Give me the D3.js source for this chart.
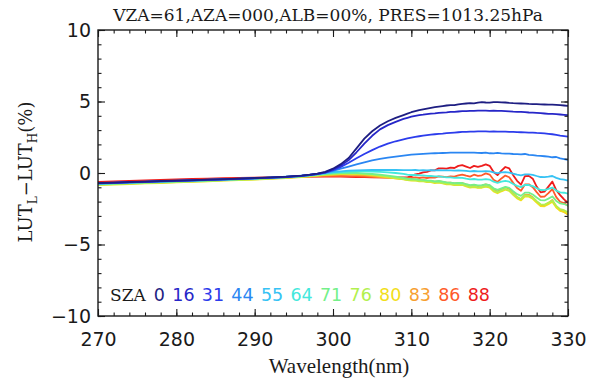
<!DOCTYPE html>
<html>
<head>
<meta charset="utf-8">
<script src="https://cdn.jsdelivr.net/npm/d3@7"></script>
<style>
  body { margin: 0; background: #fff; }
  svg { display: block; }
</style>
</head>
<body>
<svg id="chart" width="590" height="383"></svg>
<script>
// Wavelength grid (nm)
const wavelengths = [270,272,274,276,278,280,282,284,286,288,290,292,294,296,
  297,298,299,300,301,302,303,304,305,306,307,308,309,
  309.5,310,310.5,311,311.5,312,312.5,313,313.5,314,314.5,315,315.5,316,316.5,
  317,317.5,318,318.5,319,319.5,320,320.5,321,321.5,322,322.5,323,323.5,324,
  324.5,325,325.5,326,326.5,327,327.5,328,328.5,329,329.5,330];

// Solar zenith angles and their line colours
const szaLabels = [0, 16, 31, 44, 55, 64, 71, 76, 80, 83, 86, 88];
const szaColors = ["#1e1e82", "#2626c8", "#2c3cec", "#2a86f2", "#36c2f4", "#44e8dc",
                   "#74f08a", "#b2f04e", "#f2de1a", "#f7a030", "#ff5a2a", "#ee1c1c"];

// LUT_L - LUT_H (%) for each SZA
const diffSza00 = [-0.70,-0.67,-0.63,-0.60,-0.56,-0.53,-0.50,-0.46,-0.43,-0.39,-0.35,-0.31,-0.26,-0.18,
  -0.12,-0.04,0.08,0.30,0.62,1.05,1.72,2.40,2.92,3.32,3.62,3.85,4.05,
  4.15,4.25,4.33,4.40,4.45,4.50,4.55,4.60,4.64,4.68,4.72,4.75,4.74,4.80,4.84,4.86,4.88,4.87,4.92,4.95,4.93,
  4.92,4.95,4.96,4.94,4.93,4.90,4.88,4.87,4.86,4.85,4.83,4.82,4.81,4.80,4.79,4.78,4.78,4.76,4.74,4.72,4.70];
const diffSza16 = [-0.71,-0.68,-0.64,-0.61,-0.57,-0.54,-0.51,-0.47,-0.44,-0.40,-0.36,-0.32,-0.27,-0.19,
  -0.13,-0.06,0.05,0.25,0.52,0.90,1.45,2.05,2.60,3.05,3.35,3.58,3.78,
  3.86,3.94,4.00,4.05,4.08,4.12,4.15,4.17,4.20,4.22,4.24,4.27,4.28,4.30,4.32,4.33,4.34,4.35,4.36,4.36,4.36,
  4.35,4.36,4.35,4.34,4.33,4.31,4.29,4.28,4.27,4.25,4.23,4.22,4.20,4.18,4.16,4.14,4.13,4.11,4.09,4.07,4.05];
const diffSza31 = [-0.72,-0.69,-0.65,-0.62,-0.58,-0.55,-0.52,-0.48,-0.45,-0.41,-0.37,-0.33,-0.28,-0.20,
  -0.14,-0.07,0.03,0.20,0.43,0.72,1.03,1.33,1.60,1.85,2.05,2.22,2.35,
  2.42,2.48,2.53,2.57,2.61,2.65,2.68,2.71,2.74,2.76,2.79,2.81,2.83,2.85,2.87,2.88,2.89,2.90,2.91,2.91,2.91,
  2.90,2.91,2.90,2.89,2.89,2.88,2.87,2.86,2.85,2.84,2.83,2.82,2.80,2.79,2.77,2.74,2.71,2.67,2.62,2.58,2.54];
const diffSza44 = [-0.73,-0.70,-0.66,-0.63,-0.59,-0.56,-0.53,-0.49,-0.46,-0.42,-0.38,-0.34,-0.29,-0.21,
  -0.15,-0.08,0.02,0.15,0.30,0.45,0.60,0.75,0.88,0.99,1.08,1.15,1.22,
  1.25,1.28,1.30,1.32,1.34,1.36,1.37,1.38,1.39,1.40,1.41,1.42,1.42,1.43,1.43,1.43,1.42,1.42,1.41,1.40,1.42,
  1.38,1.37,1.40,1.37,1.36,1.35,1.33,1.32,1.30,1.33,1.27,1.25,1.22,1.20,1.17,1.14,1.10,1.12,1.02,0.97,0.91];
const diffSza55 = [-0.75,-0.71,-0.67,-0.63,-0.60,-0.56,-0.53,-0.49,-0.45,-0.41,-0.37,-0.32,-0.26,-0.18,
  -0.13,-0.07,0.00,0.07,0.12,0.16,0.18,0.20,0.21,0.21,0.21,0.21,0.20,
  0.20,0.20,0.21,0.19,0.20,0.19,0.20,0.19,0.20,0.19,0.18,0.18,0.17,0.18,0.17,0.15,0.12,0.14,0.12,0.11,0.13,
  0.11,0.04,-0.01,0.04,0.06,0.03,-0.05,-0.12,-0.16,-0.09,-0.09,-0.13,-0.21,-0.28,-0.29,-0.26,-0.21,-0.34,-0.43,-0.46,-0.53];
const diffSza64 = [-0.76,-0.72,-0.68,-0.64,-0.61,-0.57,-0.54,-0.50,-0.46,-0.42,-0.38,-0.33,-0.27,-0.20,
  -0.15,-0.09,-0.03,0.03,0.07,0.10,0.11,0.11,0.10,0.08,0.04,0.00,-0.06,
  -0.12,-0.14,-0.14,-0.17,-0.17,-0.20,-0.21,-0.24,-0.23,-0.27,-0.30,-0.31,-0.34,-0.33,-0.34,-0.40,-0.45,-0.42,-0.47,-0.46,-0.43,
  -0.46,-0.61,-0.69,-0.61,-0.55,-0.61,-0.77,-0.90,-0.99,-0.83,-0.84,-0.92,-1.06,-1.19,-1.20,-1.11,-1.02,-1.23,-1.35,-1.38,-1.45];
const diffSza71 = [-0.79,-0.75,-0.71,-0.67,-0.64,-0.60,-0.57,-0.53,-0.49,-0.45,-0.41,-0.36,-0.30,-0.23,
  -0.18,-0.12,-0.07,-0.03,0.00,0.01,0.00,-0.03,-0.07,-0.12,-0.19,-0.26,-0.34,
  -0.40,-0.42,-0.43,-0.47,-0.48,-0.52,-0.53,-0.58,-0.56,-0.61,-0.66,-0.67,-0.71,-0.70,-0.70,-0.78,-0.85,-0.82,-0.87,-0.85,-0.79,
  -0.85,-1.07,-1.18,-1.07,-0.97,-1.04,-1.27,-1.48,-1.60,-1.37,-1.37,-1.50,-1.71,-1.90,-1.92,-1.79,-1.64,-1.95,-2.13,-2.17,-2.28];
const diffSza76 = [-0.82,-0.78,-0.74,-0.70,-0.67,-0.63,-0.60,-0.56,-0.52,-0.48,-0.44,-0.39,-0.33,-0.26,
  -0.21,-0.16,-0.11,-0.07,-0.05,-0.04,-0.05,-0.08,-0.12,-0.18,-0.26,-0.34,-0.42,
  -0.48,-0.50,-0.51,-0.55,-0.56,-0.60,-0.61,-0.66,-0.64,-0.70,-0.75,-0.76,-0.81,-0.79,-0.81,-0.89,-0.98,-0.93,-1.00,-0.98,-0.92,
  -0.97,-1.22,-1.35,-1.22,-1.12,-1.21,-1.47,-1.69,-1.83,-1.57,-1.59,-1.73,-1.97,-2.19,-2.21,-2.08,-1.93,-2.30,-2.53,-2.60,-2.75];
const diffSza80 = [-0.85,-0.81,-0.77,-0.73,-0.70,-0.66,-0.62,-0.58,-0.54,-0.50,-0.46,-0.41,-0.35,-0.28,
  -0.23,-0.18,-0.13,-0.09,-0.07,-0.06,-0.07,-0.10,-0.15,-0.22,-0.30,-0.38,-0.45,
  -0.50,-0.53,-0.52,-0.58,-0.57,-0.63,-0.63,-0.70,-0.68,-0.73,-0.79,-0.79,-0.85,-0.83,-0.84,-0.93,-1.02,-0.98,-1.04,-1.03,-0.95,
  -1.02,-1.29,-1.42,-1.28,-1.16,-1.25,-1.53,-1.78,-1.92,-1.64,-1.65,-1.80,-2.07,-2.31,-2.33,-2.19,-2.01,-2.41,-2.65,-2.72,-2.88];
const diffSza83 = [-0.80,-0.76,-0.72,-0.68,-0.65,-0.61,-0.58,-0.54,-0.50,-0.46,-0.43,-0.38,-0.33,-0.27,
  -0.24,-0.20,-0.17,-0.14,-0.12,-0.12,-0.14,-0.17,-0.22,-0.28,-0.33,-0.38,-0.42,
  -0.45,-0.47,-0.46,-0.51,-0.50,-0.55,-0.55,-0.60,-0.57,-0.62,-0.68,-0.67,-0.73,-0.69,-0.70,-0.80,-0.89,-0.84,-0.91,-0.89,-0.80,
  -0.87,-1.16,-1.30,-1.14,-1.01,-1.10,-1.41,-1.68,-1.83,-1.52,-1.53,-1.70,-1.98,-2.24,-2.25,-2.09,-1.89,-2.35,-2.62,-2.72,-2.90];
const diffSza86 = [-0.70,-0.66,-0.62,-0.58,-0.55,-0.51,-0.48,-0.45,-0.42,-0.39,-0.36,-0.33,-0.30,-0.27,
  -0.26,-0.24,-0.22,-0.21,-0.21,-0.22,-0.24,-0.26,-0.28,-0.30,-0.32,-0.34,-0.35,
  -0.35,-0.35,-0.31,-0.35,-0.31,-0.35,-0.30,-0.33,-0.23,-0.26,-0.29,-0.24,-0.26,-0.17,-0.12,-0.19,-0.25,-0.12,-0.20,-0.16,-0.03,
  -0.11,-0.47,-0.63,-0.38,-0.18,-0.30,-0.69,-1.05,-1.24,-0.80,-0.79,-0.99,-1.34,-1.66,-1.65,-1.41,-1.12,-1.69,-2.01,-2.10,-2.30];
const diffSza88 = [-0.62,-0.58,-0.55,-0.52,-0.48,-0.45,-0.42,-0.39,-0.36,-0.34,-0.32,-0.30,-0.28,-0.27,
  -0.26,-0.25,-0.25,-0.25,-0.26,-0.27,-0.28,-0.29,-0.30,-0.30,-0.31,-0.31,-0.31,
  -0.30,-0.22,-0.10,-0.05,0.05,0.08,0.18,0.18,0.32,0.32,0.30,0.38,0.35,0.50,0.55,0.45,0.35,0.50,0.43,0.50,0.60,
  0.50,0.07,-0.15,0.17,0.42,0.32,-0.15,-0.55,-0.82,-0.22,-0.20,-0.40,-0.95,-1.35,-1.30,-0.95,-0.60,-1.20,-1.55,-1.85,-2.10];

// Axis ticks and labels
const xMajorTicks = [270, 280, 290, 300, 310, 320, 330];
const xMinorTicks = d3.range(270, 331, 2);
const yMajorTicks = [-10, -5, 0, 5, 10];
const yMinorTicks = d3.range(-10, 11, 1);
const titleText = "VZA=61,AZA=000,ALB=00%, PRES=1013.25hPa";
const xTitle = "Wavelength(nm)";

const seriesValues = [diffSza00, diffSza16, diffSza31, diffSza44, diffSza55, diffSza64,
                      diffSza71, diffSza76, diffSza80, diffSza83, diffSza86, diffSza88];
const series = szaLabels.map((sza, i) => ({
  sza, color: szaColors[i],
  points: wavelengths.map((w, j) => [w, seriesValues[i][j]])
}));

// Plot frame
const plotLeft = 98, plotRight = 568, plotTop = 30, plotBottom = 316;
const svg = d3.select("#chart");
const x = d3.scaleLinear().domain([270, 330]).range([plotLeft, plotRight]);
const y = d3.scaleLinear().domain([-10, 10]).range([plotBottom, plotTop]);

const ink = "#1a1a1a";
const sansFont = "DejaVu Sans, sans-serif";
const serifFont = "DejaVu Serif, serif";
const timesFont = "Liberation Serif, serif";

svg.append("defs").append("clipPath").attr("id", "plotClip")
  .append("rect").attr("x", plotLeft).attr("y", plotTop)
  .attr("width", plotRight - plotLeft).attr("height", plotBottom - plotTop);

// Curves, highest SZA drawn first
const line = d3.line().x(d => x(d[0])).y(d => y(d[1]));
svg.append("g").attr("clip-path", "url(#plotClip)")
  .selectAll("path").data(series.slice().reverse()).join("path")
  .attr("d", d => line(d.points))
  .attr("fill", "none")
  .attr("stroke", d => d.color)
  .attr("stroke-width", 1.8)
  .attr("stroke-linejoin", "round");

// Axes with inward ticks on all four sides
function styleAxis(g) {
  g.select(".domain").remove();
  g.selectAll(".tick line").attr("stroke", ink).attr("stroke-width", 1.1);
  g.selectAll("text").attr("fill", ink);
}
const majorLen = 7, minorLen = 3.5;

svg.append("g").attr("transform", `translate(0,${plotBottom})`)
  .call(d3.axisBottom(x).tickValues(xMinorTicks).tickSize(-minorLen).tickFormat(""))
  .call(styleAxis);
svg.append("g").attr("transform", `translate(0,${plotBottom})`)
  .call(d3.axisBottom(x).tickValues(xMajorTicks).tickSize(-majorLen).tickPadding(17).tickFormat(d3.format("d")))
  .call(styleAxis)
  .call(g => g.selectAll("text").attr("font-family", sansFont).attr("font-size", 19));
svg.append("g").attr("transform", `translate(0,${plotTop})`)
  .call(d3.axisTop(x).tickValues(xMinorTicks).tickSize(-minorLen).tickFormat(""))
  .call(styleAxis);
svg.append("g").attr("transform", `translate(0,${plotTop})`)
  .call(d3.axisTop(x).tickValues(xMajorTicks).tickSize(-majorLen).tickFormat(""))
  .call(styleAxis);

svg.append("g").attr("transform", `translate(${plotLeft},0)`)
  .call(d3.axisLeft(y).tickValues(yMinorTicks).tickSize(-minorLen).tickFormat(""))
  .call(styleAxis);
svg.append("g").attr("transform", `translate(${plotLeft},0)`)
  .call(d3.axisLeft(y).tickValues(yMajorTicks).tickSize(-majorLen).tickPadding(7)
        .tickFormat(d => d < 0 ? "\u2212" + Math.abs(d) : String(d)))
  .call(styleAxis)
  .call(g => g.selectAll("text").attr("font-family", sansFont).attr("font-size", 19));
svg.append("g").attr("transform", `translate(${plotRight},0)`)
  .call(d3.axisRight(y).tickValues(yMinorTicks).tickSize(-minorLen).tickFormat(""))
  .call(styleAxis);
svg.append("g").attr("transform", `translate(${plotRight},0)`)
  .call(d3.axisRight(y).tickValues(yMajorTicks).tickSize(-majorLen).tickFormat(""))
  .call(styleAxis);

svg.append("rect")
  .attr("x", plotLeft).attr("y", plotTop)
  .attr("width", plotRight - plotLeft).attr("height", plotBottom - plotTop)
  .attr("fill", "none").attr("stroke", ink).attr("stroke-width", 1.4);

// Title and axis titles
svg.append("text").attr("x", 328).attr("y", 21).attr("text-anchor", "middle")
  .attr("font-family", serifFont).attr("font-size", 17).attr("fill", ink)
  .text(titleText);

svg.append("text").attr("x", 339).attr("y", 373).attr("text-anchor", "middle")
  .attr("font-family", timesFont).attr("font-size", 21).attr("fill", ink)
  .text(xTitle);

const yTitle = svg.append("text")
  .attr("transform", "translate(32,172) rotate(-90)")
  .attr("text-anchor", "middle")
  .attr("font-family", serifFont).attr("font-size", 18).attr("fill", ink);
yTitle.append("tspan").text("LUT");
yTitle.append("tspan").attr("font-size", 12).attr("dy", 5).text("L");
yTitle.append("tspan").attr("dy", -5).text("\u2212LUT");
yTitle.append("tspan").attr("font-size", 12).attr("dy", 5).text("H");
yTitle.append("tspan").attr("dy", -5).text("(%)");

// SZA legend row
svg.append("text").attr("x", 110).attr("y", 301)
  .attr("font-family", serifFont).attr("font-size", 17).attr("fill", ink)
  .text("SZA");
const legendX = d3.scalePoint().domain(szaLabels).range([165, 490]);
svg.append("g").selectAll("text").data(series).join("text")
  .attr("x", d => legendX(d.sza)).attr("y", 301)
  .attr("text-anchor", "end")
  .attr("font-family", sansFont).attr("font-size", 17.5)
  .attr("fill", d => d.color)
  .text(d => d.sza);
</script>
</body>
</html>
